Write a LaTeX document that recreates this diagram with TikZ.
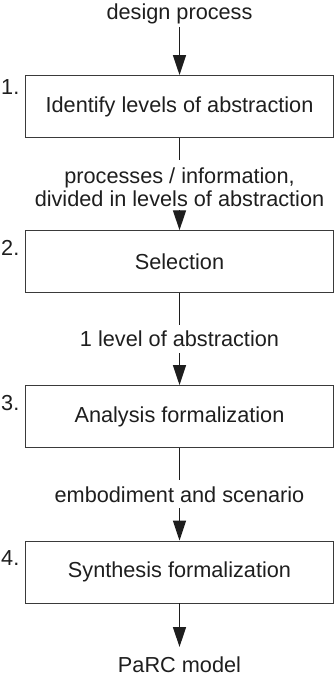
\documentclass[tikz,border=0pt]{standalone}
\usepackage{fontspec}
\setmainfont{Liberation Sans}
\usetikzlibrary{arrows.meta}
\definecolor{ink}{HTML}{1E1E1E}
\definecolor{boxcol}{HTML}{3A3A3A}
\begin{document}
\begin{tikzpicture}[x=1pt,y=-1pt,
  stepbox/.style={draw=boxcol, line width=0.9pt, minimum width=308pt,
    minimum height=62pt, inner sep=0pt, text=ink,
    font=\fontsize{21.7}{23.5}\selectfont},
  lbl/.style={inner sep=0pt, text=ink, align=center,
    font=\fontsize{21.7}{23.5}\selectfont},
  num/.style={lbl, anchor=west},
  flow/.style={line width=1.4pt, draw=ink},
  arr/.style={flow, -{Triangle[length=20pt,width=13pt]}}]
\useasboundingbox (0,0) rectangle (334,676);

% process steps
\node[stepbox] (b1) at (179.5,106.5) {Identify levels of abstraction};
\node[stepbox] (b2) at (179.5,261.7) {Selection};
\node[stepbox] (b3) at (179.5,416.5) {Analysis formalization};
\node[stepbox] (b4) at (179.5,572) {Synthesis formalization};

% step numbers
\node[num] (n1) at (1,87)  {1.};
\node[num] (n2) at (1,248) {2.};
\node[num] (n3) at (1,403) {3.};
\node[num] (n4) at (1,558) {4.};

% flow labels
\node[lbl] (l0) at (179.5,14)  {design process};
\node[lbl] (l1) at (179.5,187) {processes / information,\\divided in levels of abstraction};
\node[lbl] (l2) at (179.5,339) {1 level of abstraction};
\node[lbl] (l3) at (179.5,495) {embodiment and scenario};
\node[lbl] (l4) at (179.5,665) {PaRC model};

% connector ends around the labels
\coordinate (s0) at (179.5,27);
\coordinate (e1) at (179.5,160);
\coordinate (s1) at (179.5,210);
\coordinate (e2) at (179.5,325);
\coordinate (s2) at (179.5,353);
\coordinate (e3) at (179.5,480);
\coordinate (s3) at (179.5,508);
\coordinate (e4) at (179.5,647);

% connectors
\draw[arr]  (s0) -- (b1.north);
\draw[flow] (b1.south) -- (e1);
\draw[arr]  (s1) -- (b2.north);
\draw[flow] (b2.south) -- (e2);
\draw[arr]  (s2) -- (b3.north);
\draw[flow] (b3.south) -- (e3);
\draw[arr]  (s3) -- (b4.north);
\draw[arr]  (b4.south) -- (e4);
\end{tikzpicture}
\end{document}
